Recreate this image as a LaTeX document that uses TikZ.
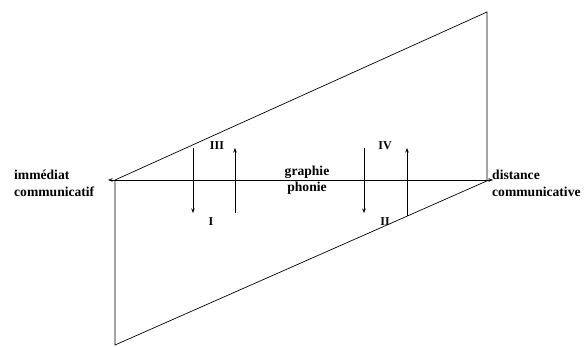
\documentclass[tikz,border=0pt]{standalone}
\usepackage{fontspec}
\setmainfont{Liberation Serif}
\usetikzlibrary{arrows.meta}
\begin{document}
\begin{tikzpicture}[x=1pt,y=-1pt,
  ln/.style={line width=0.7pt},
  arr/.style={ln,-{Stealth[length=4.5pt,width=3.5pt]}},
  lbl/.style={font=\bfseries\fontsize{13.6}{17}\selectfont, inner sep=0pt, align=left},
  rom/.style={font=\bfseries\fontsize{12}{14}\selectfont, inner sep=0pt}]
\useasboundingbox (0,0) rectangle (587,347);
% corners
\coordinate (L) at (115,180);
\coordinate (R) at (489,180);
\coordinate (TR) at (487,12);
\coordinate (BL) at (115,345);
\coordinate (LT) at (108,180);
\coordinate (RT) at (493,180);
% frame
\draw[ln] (L) -- (TR) -- (TR |- R);
\draw[ln] (L) -- (BL) -- (R);
\draw[ln,{Stealth[length=4.5pt,width=3.5pt]}-{Stealth[length=4.5pt,width=3.5pt]}] (LT) -- (RT);
% arrows
\coordinate (a1) at (193,148); \coordinate (a2) at (193,213);
\coordinate (b1) at (235,213); \coordinate (b2) at (235,148);
\coordinate (c1) at (364,148); \coordinate (c2) at (364,213);
\coordinate (d1) at (407,216); \coordinate (d2) at (407,148);
\draw[arr] (a1) -- (a2);
\draw[arr] (b1) -- (b2);
\draw[arr] (c1) -- (c2);
\draw[arr] (d1) -- (d2);
% labels
\node[rom] (III) at (217,146) {III};
\node[rom] (IV) at (385,146) {IV};
\node[rom] (I) at (211,222) {I};
\node[rom] (II) at (385,222) {II};
\node[lbl] (gr) at (307,172) {graphie};
\node[lbl] (ph) at (307,188) {phonie};
\node[lbl, anchor=west] (imm) at (14,183) {immédiat\\communicatif};
\node[lbl, anchor=west] (dist) at (492,183) {distance\\communicative};
\end{tikzpicture}
\end{document}
